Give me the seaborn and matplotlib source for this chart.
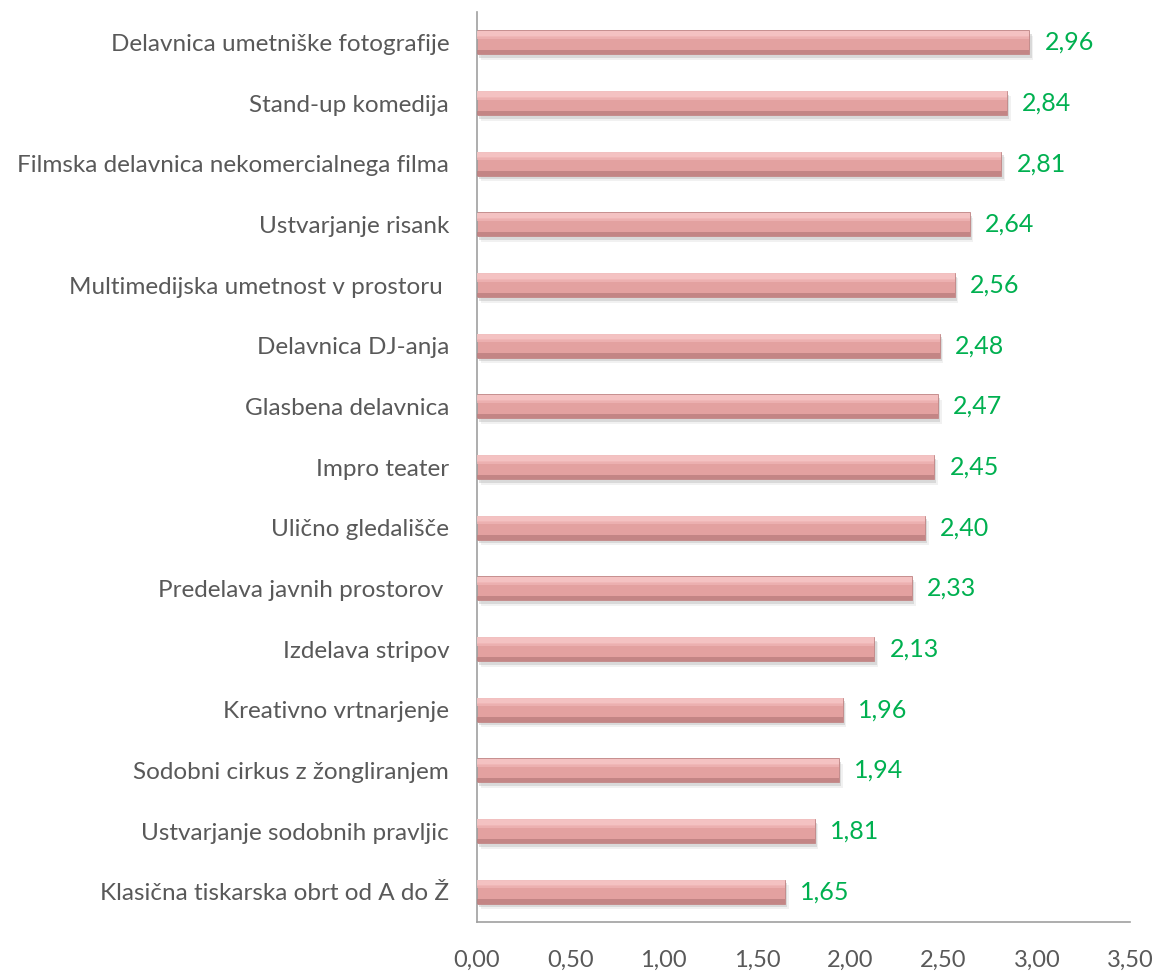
import numpy as np
import pandas as pd
import matplotlib
matplotlib.use("Agg")
import matplotlib.pyplot as plt
import seaborn as sns

categories = ['Delavnica umetniške fotografije', 'Stand-up komedija',
              'Filmska delavnica nekomercialnega filma', 'Ustvarjanje risank',
              'Multimedijska umetnost v prostoru ', 'Delavnica DJ-anja',
              'Glasbena delavnica', 'Impro teater', 'Ulično gledališče',
              'Predelava javnih prostorov ', 'Izdelava stripov',
              'Kreativno vrtnarjenje', 'Sodobni cirkus z žongliranjem',
              'Ustvarjanje sodobnih pravljic', 'Klasična tiskarska obrt od A do Ž']
values = [2.96, 2.84, 2.81, 2.64, 2.56, 2.48, 2.47, 2.45, 2.40, 2.33,
          2.13, 1.96, 1.94, 1.81, 1.65]
x_ticks = [0.0, 0.5, 1.0, 1.5, 2.0, 2.5, 3.0, 3.5]

sns.set_theme(style="white")
plt.rcParams['font.family'] = ['Lato', 'DejaVu Sans']

df = pd.DataFrame({'category': categories, 'value': values})
pos = np.arange(len(values))

fig = plt.figure(figsize=(11.56, 9.76), dpi=100)
ax = fig.add_axes([0.4126, 0.0553, 0.565, 0.9324])

# soft shadow under each bar
ax.barh(pos + 0.06, values, height=0.4, left=0.012,
        color='#9a9a9a', alpha=0.3, zorder=1, linewidth=0)
ax.barh(pos + 0.09, values, height=0.4, left=0.02,
        color='#bdbdbd', alpha=0.2, zorder=1, linewidth=0)
sns.barplot(data=df, x='value', y='category', orient='h', width=0.4,
            color='#e3a1a0', saturation=1, edgecolor='#c08585', linewidth=0.6,
            ax=ax, zorder=2)
# glossy look: light band on top, darker band at the bottom
ax.barh(pos - 0.14, values, height=0.1, color='#f6c6c6', alpha=0.9,
        zorder=3, linewidth=0)
ax.barh(pos - 0.08, values, height=0.05, color='#efb5b5', alpha=0.8,
        zorder=3, linewidth=0)
ax.barh(pos + 0.16, values, height=0.07, color='#b97c7c', alpha=0.75,
        zorder=3, linewidth=0)

for i, v in enumerate(values):
    ax.annotate(f"{v:.2f}".replace('.', ','), (v, i), xytext=(11, 0),
                textcoords='offset points', va='center', ha='left',
                fontsize=18, color='#00b050')

ax.set_xlim(0, 3.5)
ax.set_ylim(len(values) - 0.5, -0.5)
ax.set_xticks(x_ticks)
ax.set_xticklabels([f"{t:.2f}".replace('.', ',') for t in x_ticks])
ax.tick_params(axis='x', length=0, pad=20, labelsize=17, labelcolor='#595959')
ax.tick_params(axis='y', length=0, pad=20, labelsize=17.5, labelcolor='#595959')
ax.set_xlabel('')
ax.set_ylabel('')
for side in ['top', 'right']:
    ax.spines[side].set_visible(False)
for side in ['left', 'bottom']:
    ax.spines[side].set_color('#a0a0a0')
    ax.spines[side].set_linewidth(1.2)

fig.savefig('out.png', dpi=100)
